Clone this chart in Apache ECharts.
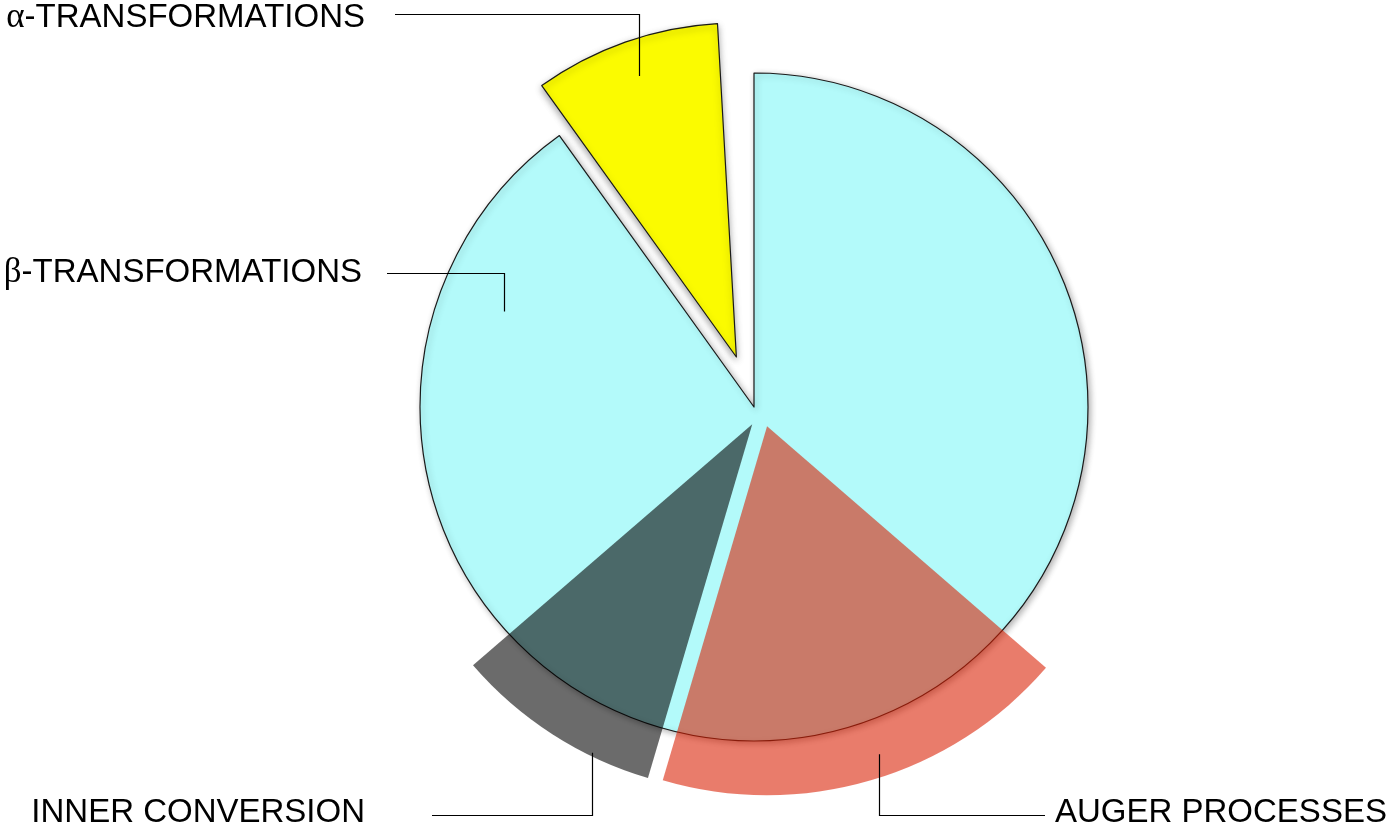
<!DOCTYPE html>
<html>
<head>
<meta charset="utf-8">
<script src="https://cdn.jsdelivr.net/npm/echarts@6/dist/echarts.min.js"></script>
<style>
  html, body { margin: 0; padding: 0; background: #ffffff; }
  #chart { width: 1389px; height: 831px; }
</style>
</head>
<body>
<div id="chart"></div>
<script>
// Shares of the decay channels, drawn as two stacked pies:
// a base disc (β with the exploded α wedge) and a translucent outer layer.
const baseNames = ['β-TRANSFORMATIONS', 'α-TRANSFORMATIONS', ''];
const baseValues = [90.1, 9.0, 0.9];

const overlayNames = ['AUGER PROCESSES', 'INNER CONVERSION', ''];
const overlayValues = [18.2, 9.1, 72.7];

// Pie geometry (screen pixels / degrees)
const BASE = { center: [754, 407], radius: 334, startAngle: 90, offset: 53, selected: [1] };
const OVER = { center: [762, 409], radius: 369, startAngle: 319.1, offset: 18, selected: [0, 1] };

// Where each label sits and how its elbow leader is routed
const labelPlacement = {
  'α-TRANSFORMATIONS': { span: 0.515, rad: 0.89,  lineY: 14,  lineEnd: 395,  textX: 365,  textY: 18,  align: 'right' },
  'β-TRANSFORMATIONS': { span: 0.897, rad: 0.80,  lineY: 273, lineEnd: 387,  textX: 362,  textY: 273, align: 'right' },
  'INNER CONVERSION':  { span: 0.29,  rad: 0.99,  lineY: 815, lineEnd: 432,  textX: 365,  textY: 813, align: 'right' },
  'AUGER PROCESSES':   { span: 0.46,  rad: 0.94,  lineY: 815, lineEnd: 1045, textX: 1055, textY: 813, align: 'left' }
};

// Point inside a slice: fraction along its angular span and along the radius,
// following the pie's own clockwise layout and selected-offset shift
function slicePoint(cfg, values, idx, spanFrac, radFrac) {
  const sum = values.reduce((a, b) => a + b, 0);
  let before = 0;
  for (let i = 0; i < idx; i++) before += values[i];
  const a0 = cfg.startAngle - 360 * before / sum;
  const span = 360 * values[idx] / sum;
  const mid = (a0 - span / 2) * Math.PI / 180;
  const a = (a0 - span * spanFrac) * Math.PI / 180;
  const off = cfg.selected.indexOf(idx) >= 0 ? cfg.offset : 0;
  const cx = cfg.center[0] + off * Math.cos(mid);
  const cy = cfg.center[1] - off * Math.sin(mid);
  return [cx + radFrac * cfg.radius * Math.cos(a), cy - radFrac * cfg.radius * Math.sin(a)];
}

// Snap to pixel centres so 1px leaders stay crisp
function crisp(v) { return Math.round(v - 0.5) + 0.5; }

const FONT = '"Liberation Sans", Arial, sans-serif';
const GREEK_FONT = '"Liberation Serif", "DejaVu Serif", serif';
const FONT_SIZE = 33;

// Callout texts and elbow leaders
function buildCallouts(cfg, values, names) {
  const out = [];
  names.forEach(function (name, idx) {
    const p = labelPlacement[name];
    if (!p) return;
    const anchor = slicePoint(cfg, values, idx, p.span, p.rad);
    const ax = crisp(anchor[0]);
    const ly = crisp(p.lineY);
    out.push({
      type: 'polyline',
      z: 100,
      silent: true,
      shape: { points: [[ax, anchor[1]], [ax, ly], [p.lineEnd, ly]] },
      style: { stroke: '#000000', lineWidth: 1.2, fill: null }
    });
    const first = name.charAt(0);
    const greek = first === 'α' || first === 'β';
    out.push({
      type: 'text',
      z: 100,
      silent: true,
      x: p.textX,
      y: p.textY,
      style: {
        text: greek ? '{g|' + first + '}{t|' + name.slice(1) + '}' : '{t|' + name + '}',
        align: p.align,
        verticalAlign: 'middle',
        fill: '#000000',
        rich: {
          g: { fontFamily: GREEK_FONT, fontSize: FONT_SIZE + 2, fill: '#000000' },
          t: { fontFamily: FONT, fontSize: FONT_SIZE, fill: '#000000' }
        }
      }
    });
  });
  return out;
}

const hidden = {
  itemStyle: { color: 'rgba(0,0,0,0)', borderWidth: 0, shadowBlur: 0, shadowColor: 'rgba(0,0,0,0)' }
};

const baseStyles = [
  { color: '#b3fafa', borderColor: '#1a1a1a', borderWidth: 1.2,
    shadowBlur: 6, shadowOffsetX: 2, shadowOffsetY: 2, shadowColor: 'rgba(0,0,0,0.3)' },
  { color: '#fbfb00', borderColor: '#1a1a1a', borderWidth: 1.2,
    shadowBlur: 7, shadowOffsetX: 0, shadowOffsetY: 3, shadowColor: 'rgba(0,0,0,0.35)' }
];
const overlayStyles = [
  { color: 'rgba(217,29,0,0.58)', borderWidth: 0 },
  { color: 'rgba(0,0,0,0.58)', borderWidth: 0 }
];

function buildData(names, values, styles, selectedIdx) {
  return names.map(function (n, i) {
    if (!n) return Object.assign({ name: 'blank' + i, value: values[i] }, hidden);
    return {
      name: n,
      value: values[i],
      selected: selectedIdx.indexOf(i) >= 0,
      itemStyle: styles[i],
      select: { itemStyle: styles[i] }
    };
  });
}

function pieSeries(name, cfg, names, values, styles, z) {
  return {
    type: 'pie',
    name: name,
    center: cfg.center,
    radius: cfg.radius,
    startAngle: cfg.startAngle,
    clockwise: true,
    selectedMode: 'multiple',
    selectedOffset: cfg.offset,
    emphasis: { disabled: true },
    silent: true,
    z: z,
    label: { show: false },
    labelLine: { show: false },
    data: buildData(names, values, styles, cfg.selected)
  };
}

const chart = echarts.init(document.getElementById('chart'), null, { renderer: 'canvas' });
chart.setOption({
  animation: false,
  backgroundColor: '#ffffff',
  graphic: { elements: buildCallouts(BASE, baseValues, baseNames).concat(buildCallouts(OVER, overlayValues, overlayNames)) },
  series: [
    pieSeries('base', BASE, baseNames, baseValues, baseStyles, 2),
    pieSeries('overlay', OVER, overlayNames, overlayValues, overlayStyles, 3)
  ]
});
</script>
</body>
</html>
